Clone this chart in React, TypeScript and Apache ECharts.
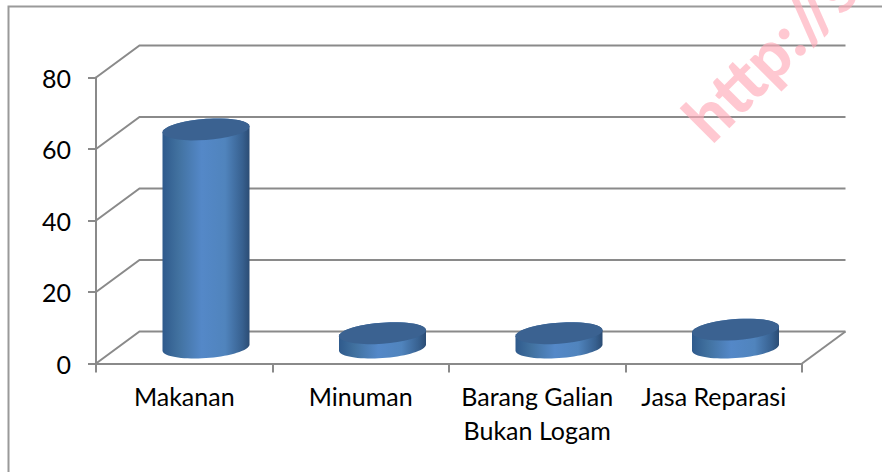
import React, { useEffect, useRef } from "react";
import * as echarts from "echarts";

const categories = ["Makanan", "Minuman", "Barang Galian\nBukan Logam", "Jasa Reparasi"];
const values = [61, 4, 4, 5];
const yTicks = [0, 20, 40, 60, 80];

const DEPTH_X = 43.5;
const DEPTH_Y = 32;
const RX = 43.5;
const RY = 11;
const TILT = (-16 * Math.PI) / 180;
const LINE = "#8a8a8a";
const FONT = "Lato";

function arc(cx: number, cy: number, from: number, to: number): number[][] {
  const pts: number[][] = [];
  const n = 36;
  for (let i = 0; i <= n; i++) {
    const t = from + ((to - from) * i) / n;
    pts.push([cx + RX * Math.cos(t), cy + RY * Math.sin(t + TILT)]);
  }
  return pts;
}

export default function App() {
  const ref = useRef<HTMLDivElement>(null);
  useEffect(() => {
    document.body.style.margin = "0";
    const chart = echarts.init(ref.current!, null, { renderer: "svg" });
    const bodyFill = new echarts.graphic.LinearGradient(0, 0, 1, 0, [
      { offset: 0, color: "#2f5a8c" },
      { offset: 0.18, color: "#41719f" },
      { offset: 0.45, color: "#5488c8" },
      { offset: 0.72, color: "#5084bd" },
      { offset: 0.92, color: "#37608f" },
      { offset: 1, color: "#2b4c74" },
    ]);
    chart.setOption({
      animation: false,
      backgroundColor: "#ffffff",
      grid: { left: 96, right: 80, top: 77.5, height: 286, containLabel: false },
      xAxis: {
        type: "category",
        data: categories,
        boundaryGap: true,
        axisLine: { show: true, lineStyle: { color: LINE, width: 2 } },
        axisTick: { show: true, length: 9, alignWithLabel: false, lineStyle: { color: LINE, width: 2 } },
        axisLabel: {
          interval: 0,
          margin: 15,
          color: "#000000",
          fontFamily: FONT,
          fontSize: 25,
          lineHeight: 34,
        },
      },
      yAxis: {
        type: "value",
        min: 0,
        max: 80,
        interval: 20,
        axisLine: { show: true, lineStyle: { color: LINE, width: 2 } },
        axisTick: { show: true, length: 8, lineStyle: { color: LINE, width: 2 } },
        splitLine: { show: false },
        axisLabel: { margin: 25, color: "#000000", fontFamily: FONT, fontSize: 25, padding: [2, 0, 0, 0] },
      },
      series: [
        {
          type: "custom",
          z: 1,
          silent: true,
          clip: false,
          data: yTicks.map((v) => [0, v]),
          renderItem: (params: any, api: any) => {
            const sys = params.coordSys;
            const v = api.value(1);
            const y = api.coord([0, v])[1];
            const style = { stroke: LINE, lineWidth: 2, fill: "none" };
            const children: any[] = [
              {
                type: "polyline",
                shape: {
                  points: [
                    [sys.x, y],
                    [sys.x + DEPTH_X, y - DEPTH_Y],
                    [sys.x + sys.width + DEPTH_X, y - DEPTH_Y],
                  ],
                },
                style,
              },
            ];
            if (v === 0) {
              children.push({
                type: "line",
                shape: {
                  x1: sys.x + sys.width,
                  y1: y,
                  x2: sys.x + sys.width + DEPTH_X,
                  y2: y - DEPTH_Y,
                },
                style,
              });
            }
            return { type: "group", children };
          },
        },
        {
          type: "custom",
          z: 3,
          silent: true,
          clip: false,
          data: values.map((v, i) => [i, v]),
          renderItem: (_params: any, api: any) => {
            const base = api.coord([api.value(0), 0]);
            const top = api.coord([api.value(0), api.value(1)]);
            const cx = base[0] + DEPTH_X / 2;
            const by = base[1] - DEPTH_Y / 2;
            const ty = top[1] - DEPTH_Y / 2;
            return {
              type: "group",
              children: [
                {
                  type: "polygon",
                  shape: {
                    points: [...arc(cx, by, 0, Math.PI), ...arc(cx, ty, Math.PI, 2 * Math.PI)],
                  },
                  style: { fill: bodyFill },
                },
                {
                  type: "polygon",
                  shape: { points: arc(cx, ty, 0, 2 * Math.PI) },
                  style: { fill: "#3b6291" },
                },
              ],
            };
          },
        },
      ],
      graphic: [
        {
          type: "polyline",
          silent: true,
          shape: { points: [[8.5, 472], [8.5, 6.5], [882, 6.5]] },
          style: { stroke: "#9a9a9a", lineWidth: 2, fill: "none" },
        },
        {
          type: "text",
          silent: true,
          z: 100,
          x: 717,
          y: 151,
          rotation: Math.PI / 4,
          style: {
            text: "http://s",
            fontFamily: "Lato",
            fontWeight: 900,
            fontSize: 66,
            fill: "rgba(255,170,185,0.65)",
            align: "left",
            verticalAlign: "bottom",
          },
        },
      ],
    });
    return () => chart.dispose();
  }, []);
  return <div ref={ref} style={{ width: 882, height: 472 }} />;
}
